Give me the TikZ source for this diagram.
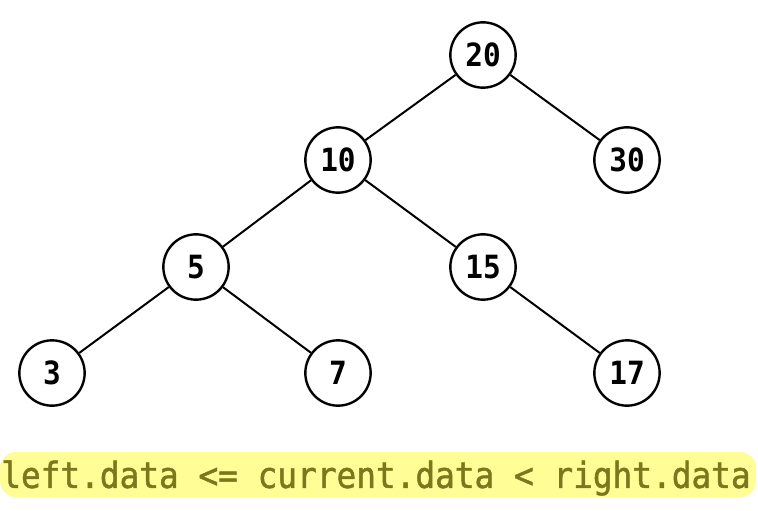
\documentclass[tikz,border=0pt]{standalone}
\usepackage{fontspec}
\usepackage{tikz}
\usetikzlibrary{calc, positioning}
\newfontfamily\keyfont[FakeStretch=0.92]{DejaVu Sans Mono}
\newfontfamily\rulefont[FakeStretch=0.91, FakeBold=1.3]{DejaVu Sans Mono}
\definecolor{hlyellow}{RGB}{255, 253, 150}
\definecolor{ruleolive}{RGB}{122, 120, 28}

\begin{document}
\begin{tikzpicture}[x=0.75pt, y=-0.75pt,
		key/.style={circle, draw, line width=1.8pt, minimum size=49pt, inner sep=0pt, fill=white, font=\keyfont\bfseries\fontsize{24}{24}\selectfont},
		link/.style={line width=1.5pt}]
			\useasboundingbox (0,0) rectangle (758,511);
			\pgfmathsetmacro{\rowa}{55}
			\pgfmathsetmacro{\rowb}{160}
			\pgfmathsetmacro{\rowc}{267}
			\pgfmathsetmacro{\rowd}{373}
			
			% links first, keys drawn over them
			\coordinate (p20) at (483,\rowa);
			\coordinate (p10) at (338,\rowb);
			\coordinate (p30) at (627,\rowb);
			\coordinate (p5) at (196,\rowc);
			\coordinate (p15) at (483,\rowc);
			\coordinate (p3) at (52,\rowd);
			\coordinate (p7) at (338,\rowd);
			\coordinate (p17) at (627,\rowd);
			
			\node[key] (k20) at (p20) {20};
			\node[key] (k10) at (p10) {10};
			\node[key] (k30) at (p30) {30};
			\node[key] (k5) at (p5) {5};
			\node[key] (k15) at (p15) {15};
			\node[key] (k3) at (p3) {3};
			\node[key] (k7) at (p7) {7};
			\node[key] (k17) at (p17) {17};
			
			\draw[link] (k20) -- (k10);
			\draw[link] (k20) -- (k30);
			\draw[link] (k10) -- (k5);
			\draw[link] (k10) -- (k15);
			\draw[link] (k5) -- (k3);
			\draw[link] (k5) -- (k7);
			\draw[link] (k15) -- (k17);
			
			% highlighted ordering rule
			\fill[hlyellow, rounded corners=12pt] (0,452) rectangle (756,497);
			\node[text=ruleolive, inner sep=0pt, font=\rulefont\fontsize{27}{27}\selectfont] (rule) at (376,478) {left.data <= current.data < right.data};
			
		\end{tikzpicture}
\end{document}
